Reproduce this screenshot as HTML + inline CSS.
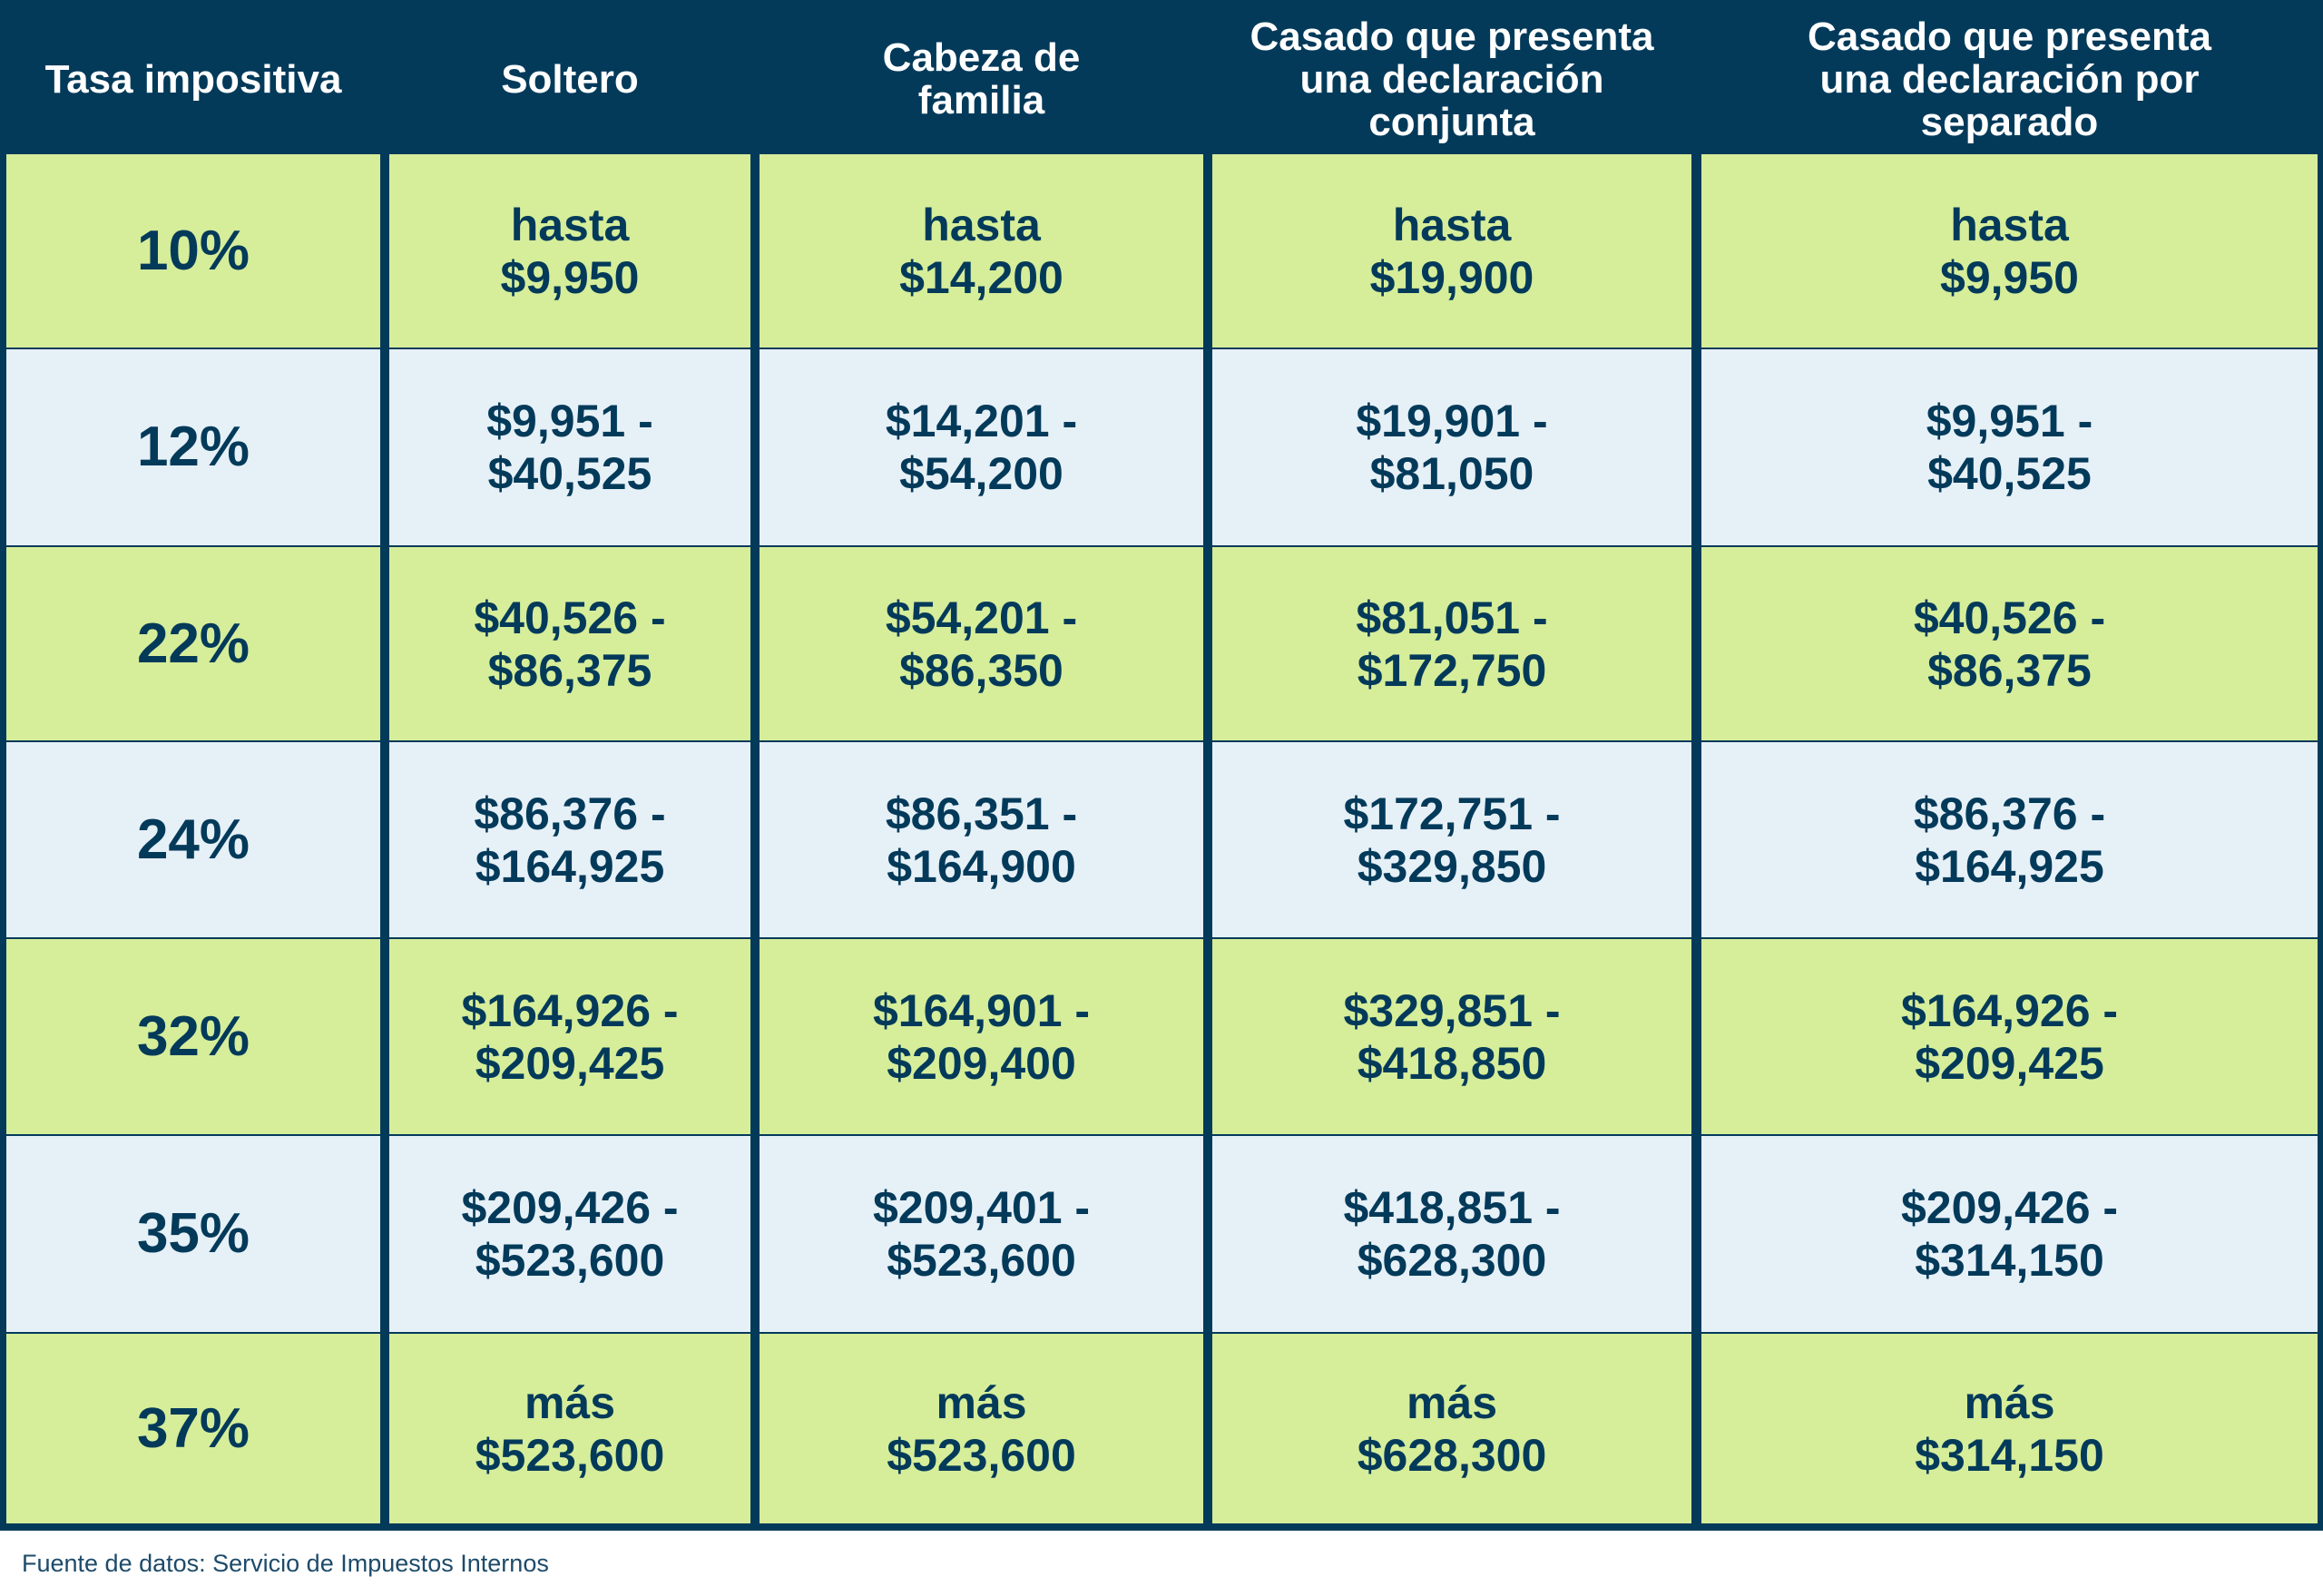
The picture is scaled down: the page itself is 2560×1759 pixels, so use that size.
<!DOCTYPE html>
<html><head><meta charset="utf-8"><style>
body{margin:0;width:2560px;height:1759px;background:#fff;position:relative;overflow:hidden;font-family:"Liberation Sans",sans-serif;}
.bg{position:absolute;left:0;top:0;width:2560px;height:1687px;background:#033a5a;}
.h{position:absolute;top:0;height:170px;display:flex;align-items:center;justify-content:center;text-align:center;color:#fff;font-weight:bold;font-size:44px;line-height:47px;padding-top:4px;box-sizing:border-box;}
.c{position:absolute;display:flex;align-items:center;justify-content:center;text-align:center;color:#033a5a;font-weight:bold;font-size:50px;line-height:58px;}
.g{background:#d6ed9a;}.b{background:#e6f0f7;}
.r{font-size:62px;}
.foot{position:absolute;left:24px;top:1708px;font-size:27px;color:#1d4b6a;}
</style></head><body>
<div class="bg"></div>
<div id="t"></div>
<div class="foot">Fuente de datos: Servicio de Impuestos Internos</div>
<script>
const headers=["Tasa impositiva","Soltero","Cabeza de<br>familia","Casado que presenta<br>una declaración<br>conjunta","Casado que presenta<br>una declaración por<br>separado"];
const rates=["10%","12%","22%","24%","32%","35%","37%"];
const single=["hasta<br>$9,950","$9,951 -<br>$40,525","$40,526 -<br>$86,375","$86,376 -<br>$164,925","$164,926 -<br>$209,425","$209,426 -<br>$523,600","más<br>$523,600"];
const head=["hasta<br>$14,200","$14,201 -<br>$54,200","$54,201 -<br>$86,350","$86,351 -<br>$164,900","$164,901 -<br>$209,400","$209,401 -<br>$523,600","más<br>$523,600"];
const joint=["hasta<br>$19,900","$19,901 -<br>$81,050","$81,051 -<br>$172,750","$172,751 -<br>$329,850","$329,851 -<br>$418,850","$418,851 -<br>$628,300","más<br>$628,300"];
const sep=["hasta<br>$9,950","$9,951 -<br>$40,525","$40,526 -<br>$86,375","$86,376 -<br>$164,925","$164,926 -<br>$209,425","$209,426 -<br>$314,150","más<br>$314,150"];
const cols=[[7,419],[429,827],[837,1326],[1336,1864],[1875,2554]];
const rowsY=[170,385,603,818,1035,1252,1470,1679];
const colNames=['tax-rate','single','head-of-household','married-joint','married-separate'];
const t=document.getElementById('t');
headers.forEach((h,i)=>{const d=document.createElement('div');d.className='h';


d.style.left=(cols[i][0]-5)+'px';d.style.width=(cols[i][1]-cols[i][0]+10)+'px';d.innerHTML=h;t.appendChild(d);});
const data=[rates,single,head,joint,sep];
for(let r=0;r<rates.length;r++){for(let c=0;c<5;c++){const d=document.createElement('div');
d.className='c '+(r%2?'b':'g')+(c==0?' r':'');


d.style.left=cols[c][0]+'px';d.style.width=(cols[c][1]-cols[c][0])+'px';
d.style.top=rowsY[r]+'px';d.style.height=(rowsY[r+1]-rowsY[r]-(r<rates.length-1?2:0))+'px';
d.innerHTML=data[c][r];t.appendChild(d);}}
</script>
</body></html>
